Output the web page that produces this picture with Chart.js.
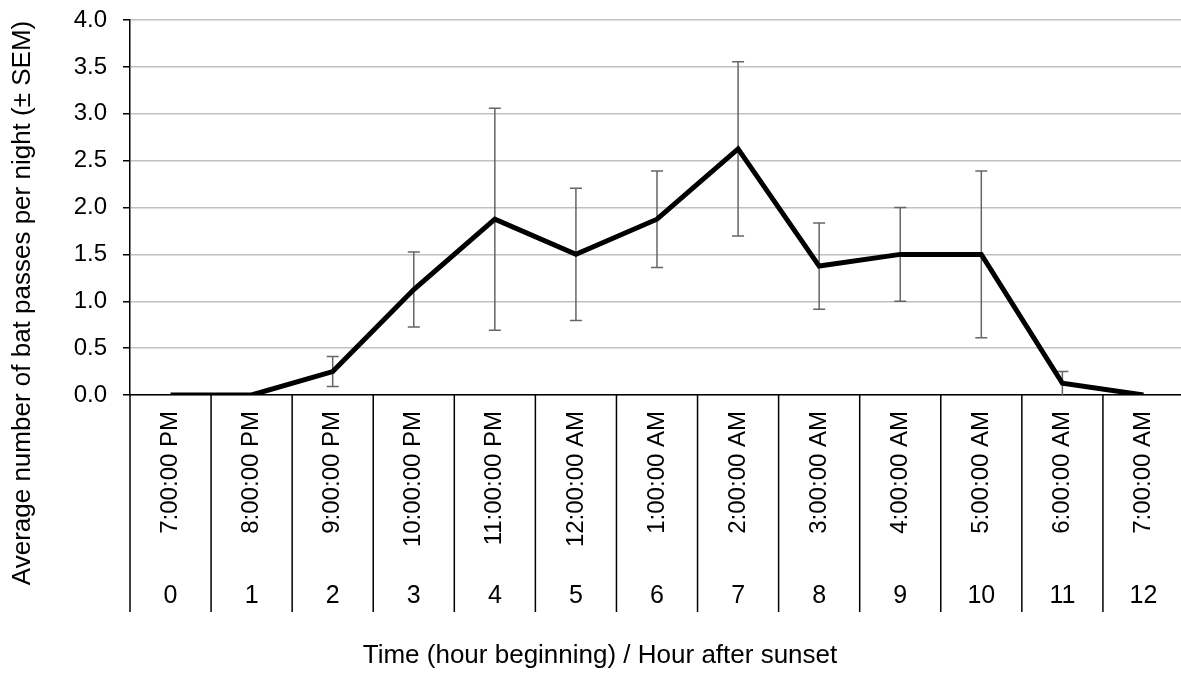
<!DOCTYPE html>
<html>
<head>
<meta charset="utf-8">
<script src="https://cdn.jsdelivr.net/npm/chart.js@4"></script>
<style>
html, body { margin: 0; padding: 0; overflow: hidden; background: #ffffff; }
#wrap { width: 1190px; height: 675px; }
</style>
</head>
<body>
<div id="wrap"><canvas id="c" width="1190" height="675"></canvas></div>
<script>
// ---- data ----
const timeLabels = ['7:00:00 PM', '8:00:00 PM', '9:00:00 PM', '10:00:00 PM', '11:00:00 PM', '12:00:00 AM',
  '1:00:00 AM', '2:00:00 AM', '3:00:00 AM', '4:00:00 AM', '5:00:00 AM', '6:00:00 AM', '7:00:00 AM'];
const hourLabels = ['0', '1', '2', '3', '4', '5', '6', '7', '8', '9', '10', '11', '12'];
const meanPasses = [0, 0, 0.25, 1.125, 1.875, 1.5, 1.875, 2.625, 1.375, 1.5, 1.5, 0.125, 0];
const semPasses = [0, 0, 0.16, 0.40, 1.185, 0.705, 0.515, 0.93, 0.46, 0.5, 0.89, 0.125, 0];
const yMin = 0, yMax = 4, yStep = 0.5;
const yTitle = 'Average number of bat passes per night (± SEM)';
const xTitle = 'Time (hour beginning) / Hour after sunset';

const FONT = 'Liberation Sans, Arial, sans-serif';

const errorBars = {
  id: 'errorBars',
  beforeDatasetsDraw(chart) {
    const ctx = chart.ctx, xs = chart.scales.x, ys = chart.scales.y;
    ctx.save();
    ctx.strokeStyle = '#666666';
    ctx.lineWidth = 1.5;
    meanPasses.forEach((v, i) => {
      const s = semPasses[i];
      if (!s) return;
      const x = xs.getPixelForValue(i);
      const yt = ys.getPixelForValue(v + s), yb = ys.getPixelForValue(Math.max(0, v - s));
      ctx.beginPath();
      ctx.moveTo(x, yt); ctx.lineTo(x, yb);
      ctx.moveTo(x - 6, yt); ctx.lineTo(x + 6, yt);
      if (v - s > 0) { ctx.moveTo(x - 6, yb); ctx.lineTo(x + 6, yb); }
      ctx.stroke();
    });
    ctx.restore();
  }
};

const decorations = {
  id: 'decorations',
  afterDraw(chart) {
    const ctx = chart.ctx, xs = chart.scales.x;
    const half = (xs.getPixelForValue(1) - xs.getPixelForValue(0)) / 2;
    ctx.save();
    // category dividers spanning both label rows
    ctx.strokeStyle = '#000000';
    ctx.lineWidth = 1.5;
    ctx.beginPath();
    for (let i = 0; i <= timeLabels.length; i++) {
      const x = xs.getPixelForValue(i) - half;
      ctx.moveTo(x, chart.chartArea.bottom);
      ctx.lineTo(x, 612);
    }
    ctx.stroke();
    // axis titles
    ctx.fillStyle = '#000000';
    ctx.font = '26px ' + FONT;
    ctx.textAlign = 'center';
    ctx.textBaseline = 'middle';
    ctx.fillText(xTitle, 600, 656);
    ctx.translate(23, 303);
    ctx.rotate(-Math.PI / 2);
    ctx.fillText(yTitle, 0, 0);
    ctx.restore();
  }
};

new Chart(document.getElementById('c'), {
  type: 'line',
  data: {
    labels: timeLabels,
    datasets: [{
      data: meanPasses,
      borderColor: '#000000',
      borderWidth: 5,
      borderJoinStyle: 'miter',
      borderCapStyle: 'butt',
      pointRadius: 0,
      pointHoverRadius: 0,
      tension: 0,
      fill: false
    }]
  },
  options: {
    responsive: false,
    devicePixelRatio: 1,
    animation: false,
    layout: { padding: { left: 0, top: 20, right: 6, bottom: 0 } },
    plugins: { legend: { display: false }, tooltip: { enabled: false } },
    scales: {
      y: {
        min: yMin, max: yMax,
        afterFit(s) { s.width = 130; s.paddingTop = 0; s.paddingBottom = 0; },
        ticks: {
          stepSize: yStep,
          color: '#000000',
          padding: 16,
          font: { family: FONT, size: 24 },
          callback: v => Number(v).toFixed(1)
        },
        grid: { color: '#c0c0c0', lineWidth: 1.5, tickColor: '#000000', tickLength: 7 },
        border: { display: true, color: '#000000', width: 1.5 }
      },
      x: {
        offset: true,
        afterFit(s) { s.height = 185; s.paddingLeft = 0; s.paddingRight = 0; },
        ticks: {
          color: '#000000',
          minRotation: 90, maxRotation: 90,
          autoSkip: false,
          padding: 16,
          font: { family: FONT, size: 24 }
        },
        grid: { display: false, drawTicks: false },
        border: { display: true, color: '#000000', width: 1.5 }
      },
      x2: {
        type: 'category',
        position: 'bottom',
        offset: true,
        labels: hourLabels,
        afterFit(s) { s.height = 95; s.paddingLeft = 0; s.paddingRight = 0; },
        ticks: {
          color: '#000000',
          maxRotation: 0, minRotation: 0,
          autoSkip: false,
          padding: 1,
          font: { family: FONT, size: 25 }
        },
        grid: { display: false, drawTicks: false },
        border: { display: false }
      }
    }
  },
  plugins: [errorBars, decorations]
});
</script>
</body>
</html>
